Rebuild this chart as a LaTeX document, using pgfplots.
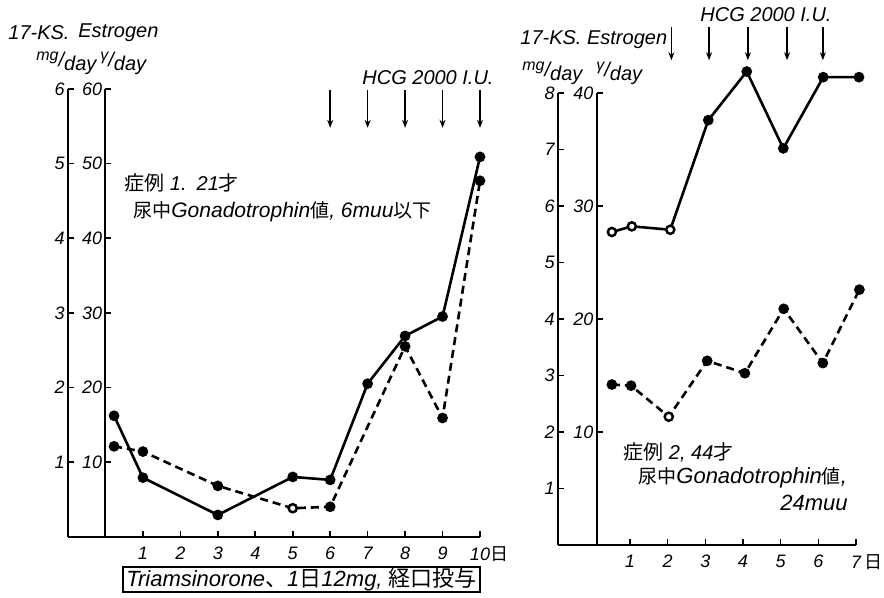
\documentclass[border=0pt]{standalone}
\usepackage{fontspec}
\setmainfont{Liberation Sans}
\newfontfamily\cjk{Noto Sans CJK JP}
\newcommand{\jp}[1]{{\cjk\fontsize{9.5}{9.5}\selectfont #1}}
\usepackage{pgfplots}
\pgfplotsset{compat=1.18}
\usetikzlibrary{arrows.meta}
\begin{document}
\begin{tikzpicture}[font=\itshape]
\path[use as bounding box] (0,0) rectangle (442pt,-299pt);
\pgfplotsset{
  myax/.style={scale only axis, clip=false,
    axis x line=bottom, axis y line=left,
    axis line style={-, line width=1pt},
    tick align=inside, major tick length=3pt,
    tick style={line width=0.8pt, black},
    ticklabel style={font=\itshape\fontsize{9}{9}\selectfont},
    yticklabel style={inner sep=1.5pt},
    xticklabel style={yshift=-1.5pt},
  },
  sol/.style={black, line width=1.3pt, mark=*, mark size=2pt, mark options={solid}},
  dsh/.style={black, line width=1.3pt, dash pattern=on 4pt off 2.5pt, mark=*, mark size=2pt, mark options={solid}},
  opn/.style={only marks, mark=*, mark size=1.8pt, mark options={solid, fill=white, draw=black, line width=0.8pt}},
}
% ---------------- left panel ----------------
\begin{axis}[myax, at={(34pt,-268.3pt)}, anchor=south west,
  width=206pt, height=223.8pt,
  xmin=-1, xmax=10, ymin=0, ymax=60,
  xtick={1,2,3,4,5,6,7,8,9,10},
  xticklabels={1,2,3,4,5,6,7,8,9,10\rlap{\cjk 日}},
  ytick={10,20,30,40,50,60},
  yticklabels={1,2,3,4,5,6},
]
\addplot[sol] coordinates {(0.23,16.2)(1,7.9)(3,2.9)(5,8.0)(6,7.6)(7,20.5)(8,26.9)(9,29.5)(10,50.9)};
\addplot[dsh] coordinates {(0.23,12.1)(1,11.4)(3,6.8)(5,3.8)(6,4.0)(8,25.5)(9,15.9)(10,47.7)};
\addplot[opn] coordinates {(5,3.8)};
\draw[line width=1pt] (axis cs:0,0) -- (axis cs:0,60);
\pgfplotsinvokeforeach{10,20,30,40,50,60}{
  \draw[line width=0.8pt] (axis cs:0,#1) -- ([xshift=3pt]axis cs:0,#1);
  \node[anchor=east, inner sep=1.5pt, font=\itshape\fontsize{9}{9}\selectfont] at (axis cs:0,#1) {#1};
}
\pgfplotsinvokeforeach{6,7,8,9,10}{
  \draw[-{Stealth[length=4pt,width=3pt]}, line width=0.8pt] (axis cs:#1,59.9) -- (axis cs:#1,54.8);
}
\end{axis}
% ---------------- right panel ----------------
\begin{axis}[myax, at={(279pt,-272.5pt)}, anchor=south west,
  width=149pt, height=226pt,
  xmin=-0.91, xmax=7, ymin=0, ymax=40,
  xtick={1,2,3,4,5,6,7},
  xticklabels={1,2,3,4,5,6,7\rlap{\,\cjk 日}},
  ytick={5,10,15,20,25,30,35,40},
  yticklabels={1,2,3,4,5,6,7,8},
]
\addplot[sol] coordinates {(0.52,27.7)(1.05,28.2)(2.07,27.9)(3.08,37.6)(4.1,41.9)(5.07,35.1)(6.13,41.4)(7.08,41.4)};
\addplot[opn] coordinates {(0.52,27.7)(1.05,28.2)(2.07,27.9)};
\addplot[dsh] coordinates {(0.52,14.2)(1.03,14.1)(2.03,11.35)(3.05,16.3)(4.05,15.2)(5.08,20.9)(6.12,16.1)(7.09,22.6)};
\addplot[opn] coordinates {(2.03,11.35)};
\draw[line width=1pt] (axis cs:0.12,0) -- (axis cs:0.12,40);
\pgfplotsinvokeforeach{10,20,30,40}{
  \draw[line width=0.8pt] (axis cs:0.12,#1) -- ([xshift=3pt]axis cs:0.12,#1);
  \node[anchor=east, inner sep=1.5pt, font=\itshape\fontsize{9}{9}\selectfont] at (axis cs:0.12,#1) {#1};
}
\pgfplotsinvokeforeach{2.1,3.1,4.13,5.17,6.12}{
  \draw[-{Stealth[length=4pt,width=3pt]}, line width=0.8pt] (axis cs:#1,45.8) -- (axis cs:#1,42.9);
}
\end{axis}
% ---------------- texts ----------------
\begin{scope}[every node/.style={inner sep=0pt, font=\itshape\fontsize{10}{10}\selectfont}]
\node[anchor=west] at (4pt,-16.5pt) {17-KS.};
\node[anchor=west] at (39pt,-16.5pt) {Estrogen};
\node[anchor=west] at (18pt,-31.5pt) {\raisebox{3pt}{\fontsize{8}{8}\selectfont mg}/\raisebox{-2pt}{day}};
\node[anchor=west] at (50pt,-31.5pt) {\raisebox{3pt}{\fontsize{8}{8}\selectfont γ}/\raisebox{-2pt}{day}};
\node[anchor=west] at (181pt,-39pt) {HCG 2000 I.U.};
\node[anchor=west, font=\itshape\fontsize{10}{10}\selectfont] at (62pt,-91.5pt) {{\cjk 症例} 1.\enspace 21{\cjk 才}};
\node[anchor=west, font=\itshape\fontsize{10.5}{10.5}\selectfont] at (66.5pt,-106pt) {\jp{尿中}Gonadotrophin\jp{値}, 6muu\jp{以下}};
\node[draw, line width=0.8pt, minimum width=178.5pt, minimum height=12.5pt, font=\itshape\fontsize{11}{11}\selectfont] at (150.75pt,-289.75pt) {Triamsinorone{\cjk 、}1{\cjk 日}12mg, {\cjk 経口投与}};
\node[anchor=west] at (260pt,-20pt) {17-KS. Estrogen};
\node[anchor=west] at (261pt,-36.5pt) {\raisebox{3pt}{\fontsize{8}{8}\selectfont mg}/\raisebox{-2pt}{day}};
\node[anchor=west] at (298pt,-36.5pt) {\raisebox{3pt}{\fontsize{8}{8}\selectfont γ}/\raisebox{-2pt}{day}};
\node[anchor=west] at (350pt,-7.5pt) {HCG 2000 I.U.};
\node[anchor=west, font=\itshape\fontsize{10}{10}\selectfont] at (311.5pt,-226pt) {{\cjk 症例} 2, 44{\cjk 才}};
\node[anchor=west, font=\itshape\fontsize{11}{11}\selectfont] at (319pt,-239pt) {\jp{尿中}Gonadotrophin\jp{値},};
\node[anchor=west, font=\itshape\fontsize{11}{11}\selectfont] at (390pt,-251.5pt) {24muu};
\end{scope}
\end{tikzpicture}
\end{document}
